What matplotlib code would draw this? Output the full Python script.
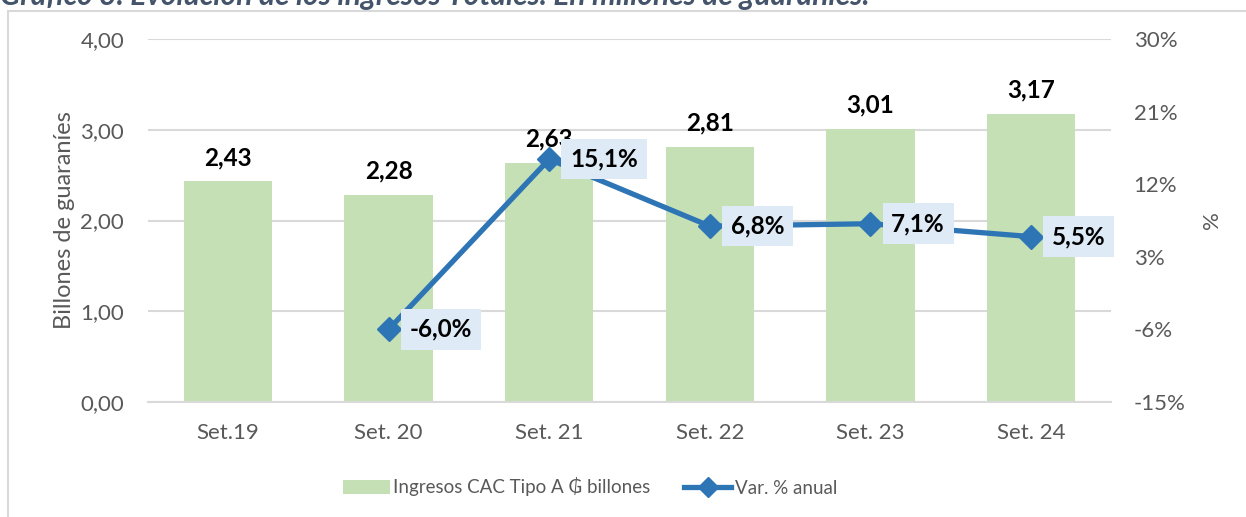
import matplotlib.pyplot as plt
from matplotlib.patches import Patch, Rectangle
from matplotlib.lines import Line2D

plt.rcParams['font.family'] = ['Lato', 'DejaVu Sans']

# datos
categorias = ["Set.19", "Set. 20", "Set. 21", "Set. 22", "Set. 23", "Set. 24"]
ingresos = [2.43, 2.28, 2.63, 2.81, 3.01, 3.17]
var_anual = [None, -6.0, 15.1, 6.8, 7.1, 5.5]
yticks_izq = [0, 1, 2, 3, 4]
yticks_der = [-15, -6, 3, 12, 21, 30]

VERDE = "#C5E0B4"
AZUL = "#2E75B6"
GRIS = "#595959"
CAJA = "#DEEAF6"

def fmt(v, dec):
    return f"{v:.{dec}f}".replace(".", ",")

fig = plt.figure(figsize=(12.46, 5.17), dpi=100)
ax = fig.add_axes([0.1185, 0.2224, 0.7735, 0.7022])
ax2 = ax.twinx()

x = list(range(len(categorias)))
ax.bar(x, ingresos, width=0.55, color=VERDE, zorder=2)
for xi, v in zip(x, ingresos):
    ax.annotate(fmt(v, 2), (xi, v), xytext=(0, 9), textcoords="offset points",
                ha="center", va="bottom", fontsize=17.5, fontweight="bold", color="black", zorder=5)

ax.set_xlim(-0.5, len(categorias) - 0.5)
ax.set_ylim(0, 4)
ax.set_yticks(yticks_izq)
ax.set_yticklabels([fmt(t, 2) for t in yticks_izq])
ax.set_xticks(x)
ax.set_xticklabels(categorias)
ax.grid(axis="y", color="#D9D9D9", linewidth=1.5, zorder=0)
ax.set_axisbelow(True)
ax.tick_params(axis="both", length=0, labelsize=16, labelcolor=GRIS)
ax.tick_params(axis="y", pad=17)
ax.tick_params(axis="x", pad=15)
for s in ["top", "left", "right"]:
    ax.spines[s].set_visible(False)
ax.spines["bottom"].set_color("#D9D9D9")
ax.spines["bottom"].set_linewidth(1.5)
ax.set_ylabel("Billones de guaraníes", fontsize=17, color=GRIS, labelpad=4)

# linea de variacion
xs = [xi for xi, v in zip(x, var_anual) if v is not None]
vs = [v for v in var_anual if v is not None]
ax2.plot(xs, vs, color=AZUL, linewidth=3.8, marker="D", markersize=12, zorder=4)
for xi, v in zip(xs, vs):
    ax2.annotate(fmt(v, 1) + "%", (xi, v), xytext=(15, 0), textcoords="offset points",
                 ha="left", va="center", fontsize=17.5, fontweight="bold", color="black",
                 bbox=dict(boxstyle="square,pad=0.36", fc=CAJA, ec="none"), zorder=6)
ax2.set_ylim(-15, 30)
ax2.set_yticks(yticks_der)
ax2.set_yticklabels([f"{t}%" for t in yticks_der])
ax2.tick_params(axis="y", length=0, labelsize=16, labelcolor=GRIS, pad=16)
for s in ["top", "left", "right", "bottom"]:
    ax2.spines[s].set_visible(False)
ax2.set_ylabel("%", fontsize=16, color=GRIS, labelpad=12)

# leyenda
handles = [Patch(facecolor=VERDE, edgecolor="none"),
           Line2D([0], [0], color=AZUL, linewidth=3.8, marker="D", markersize=10)]
fig.legend(handles, ["Ingresos CAC Tipo A ₲ billones", "Var. % anual"],
           loc="center", bbox_to_anchor=(0.4735, 1 - 487 / 517), ncol=2, frameon=False,
           fontsize=13.5, labelcolor=GRIS, handlelength=2.5, handletextpad=0.2,
           columnspacing=1.8)

# marco y titulo recortado
fig.patches.append(Rectangle((8 / 1246, -0.1), 1.2, 1.1 - 11 / 517, transform=fig.transFigure,
                             fill=False, edgecolor="#D9D9D9", linewidth=1.5))
fig.text(0.0, 1 - 5 / 517, "Gráfico 3. Evolución de los ingresos Totales. En millones de guaraníes.",
         fontsize=21.5, fontweight="bold", fontstyle="italic", color="#44546A", va="baseline")

fig.savefig("out.png", dpi=100)
